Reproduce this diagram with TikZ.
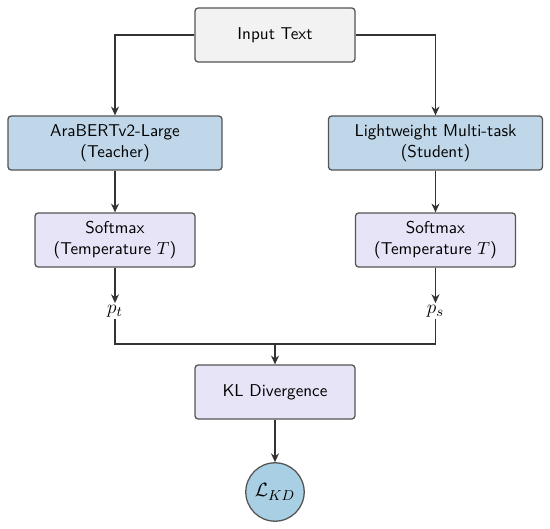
\documentclass[tikz,border=0pt]{standalone}
\usetikzlibrary{arrows.meta}
\definecolor{boxline}{HTML}{555555}
\definecolor{inputfill}{HTML}{F2F2F2}
\definecolor{modelfill}{HTML}{BFD7E8}
\definecolor{softfill}{HTML}{E6E4F6}
\definecolor{lossfill}{HTML}{A9CFE4}
\definecolor{arrowcol}{HTML}{333333}
\begin{document}
\fontsize{10.7}{13.2}\selectfont
\begin{tikzpicture}[x=0.625pt,y=-0.625pt,
  every node/.style={font=\fontsize{10.7}{13.2}\selectfont\sffamily},
  box/.style={draw=boxline, line width=0.8pt, rounded corners=2pt, align=center, inner sep=0pt},
  inbox/.style={box, fill=inputfill, minimum width=100pt, minimum height=33.75pt},
  modelbox/.style={box, fill=modelfill, minimum width=133.75pt, minimum height=33.75pt},
  softbox/.style={box, fill=softfill, minimum width=100pt, minimum height=33.75pt},
  lossnode/.style={circle, draw=boxline, line width=0.8pt, fill=lossfill, minimum size=36.5pt, inner sep=0pt, font=\fontsize{12.5}{15}\selectfont},
  mathlabel/.style={inner sep=1pt, font=\fontsize{13}{15}\selectfont},
  conn/.style={draw=arrowcol, line width=0.9pt},
  arr/.style={conn, -{Stealth[length=5.5pt,width=5pt]}}]
\useasboundingbox (0,0) rectangle (550,529);
\node[inbox] (input) at (275,35) {Input Text};
\node[modelbox] (teacher) at (115,143) {AraBERTv2-Large\\(Teacher)};
\node[modelbox] (student) at (435.5,143) {Lightweight Multi-task\\(Student)};
\node[softbox] (softl) at (115,240) {Softmax\\(Temperature $T$)};
\node[softbox] (softr) at (435.5,240) {Softmax\\(Temperature $T$)};
\node[mathlabel] (pt) at (115,311) {$p_t$};
\node[mathlabel] (ps) at (435.5,311) {$p_s$};
\node[softbox] (kl) at (275,392) {KL Divergence};
\node[lossnode] (loss) at (275,492) {$\mathcal{L}_{KD}$};
\coordinate (join) at (275,344);
\draw[arr] (input.west) -| (teacher.north);
\draw[arr] (input.east) -| (student.north);
\draw[arr] (teacher) -- (softl);
\draw[arr] (student) -- (softr);
\draw[arr] (softl) -- (pt);
\draw[arr] (softr) -- (ps);
\draw[conn] (pt.south) |- (join) -| (ps.south);
\draw[arr] (join) -- (kl);
\draw[arr] (kl) -- (loss);
\end{tikzpicture}
\end{document}
